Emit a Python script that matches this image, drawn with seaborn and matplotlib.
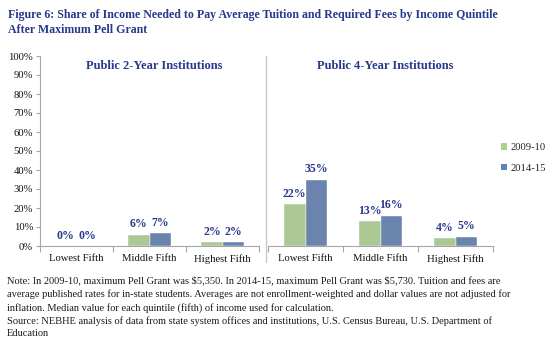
import matplotlib
matplotlib.use("Agg")
import matplotlib.pyplot as plt
import seaborn as sns
import pandas as pd
from matplotlib.lines import Line2D
from matplotlib.patches import Patch
from matplotlib.ticker import FuncFormatter

quintiles = ["Lowest Fifth", "Middle Fifth", "Highest Fifth"]
years = ["2009-10", "2014-15"]
two_year_0910 = [0, 6, 2]
two_year_1415 = [0, 7, 2]
four_year_0910 = [22, 13, 4]
four_year_1415 = [35, 16, 5]
yticks = list(range(0, 101, 10))

title = ("Figure 6: Share of Income Needed to Pay Average Tuition and Required Fees by Income Quintile\n"
         "After Maximum Pell Grant")
panel_titles = ["Public 2-Year Institutions", "Public 4-Year Institutions"]
note = ("Note: In 2009-10, maximum Pell Grant was \\$5,350. In 2014-15, maximum Pell Grant was \\$5,730. Tuition and fees are\n"
        "average published rates for in-state students. Averages are not enrollment-weighted and dollar values are not adjusted for\n"
        "inflation. Median value for each quintile (fifth) of income used for calculation.\n"
        "Source: NEBHE analysis of data from state system offices and institutions, U.S. Census Bureau, U.S. Department of\n"
        "Education")

def make_df(a, b):
    rows = []
    for q, v in zip(quintiles, a):
        rows.append({"quintile": q, "year": years[0], "share": v})
    for q, v in zip(quintiles, b):
        rows.append({"quintile": q, "year": years[1], "share": v})
    return pd.DataFrame(rows)

df2 = make_df(two_year_0910, two_year_1415)
df4 = make_df(four_year_0910, four_year_1415)

sns.set_theme(style="white")
plt.rcParams["font.family"] = ["Liberation Serif", "DejaVu Serif"]

GREEN = "#abd28c"
BLUE = "#5f82b8"
NAVY = "#27398c"
GRID = "#a6a6a6"

W, H = 548, 344
fig = plt.figure(figsize=(W / 100, H / 100), dpi=100)

def px_axes(x0, x1, ytop, ybot):
    return fig.add_axes([x0 / W, 1 - ybot / H, (x1 - x0) / W, (ybot - ytop) / H])

ax1 = px_axes(40, 259, 56, 246)
ax2 = px_axes(268, 493, 56, 246)

for ax, df, ttl in [(ax1, df2, panel_titles[0]), (ax2, df4, panel_titles[1])]:
    sns.barplot(data=df, x="quintile", y="share", hue="year", order=quintiles,
                hue_order=years, palette=[GREEN, BLUE], width=0.58, ax=ax,
                legend=False, edgecolor="white", linewidth=0.3)
    ax.set_ylim(0, 100)
    ax.set_xlim(-0.5, 2.5)
    ax.set_xlabel("")
    ax.set_ylabel("")
    for c in ax.containers:
        ax.bar_label(c, labels=[f"{v:.0f}%" for v in c.datavalues], padding=3,
                     fontsize=8.5, fontweight="bold", color=NAVY)
    ax.text(0.52, 0.945, ttl, transform=ax.transAxes, ha="center", va="center",
            fontsize=9, fontweight="bold", color=NAVY)
    for s in ["top", "right"]:
        ax.spines[s].set_visible(False)
    ax.spines["bottom"].set_color(GRID)
    ax.spines["bottom"].set_linewidth(0.8)
    ax.set_xticks([-0.5, 0.5, 1.5, 2.5], minor=True)
    ax.tick_params(axis="x", which="minor", length=4, width=0.8, color=GRID, direction="out", bottom=True)
    ax.tick_params(axis="x", which="major", length=0, labelsize=7.7, pad=6, colors="#111111")
    ax.set_facecolor("none")

ax1.set_yticks(yticks)
ax1.yaxis.set_major_formatter(FuncFormatter(lambda v, p: f"{v:.0f}%"))
ax1.spines["left"].set_color(GRID)
ax1.spines["left"].set_linewidth(0.8)
ax1.tick_params(axis="y", length=3, width=0.8, color=GRID, direction="out", left=True,
                labelsize=7.7, pad=2, labelcolor="#111111")
ax2.spines["left"].set_visible(False)
ax2.set_yticks([])

handles = [Patch(facecolor=GREEN, edgecolor="none", label=years[0]),
           Patch(facecolor=BLUE, edgecolor="none", label=years[1])]
fig.legend(handles=handles, loc="upper left", bbox_to_anchor=(497 / W, 1 - 139 / H),
           frameon=False, fontsize=7.7, handlelength=0.55, handleheight=0.55,
           handletextpad=0.3, labelspacing=1.05, borderaxespad=0)

fig.add_artist(Line2D([266 / W, 266 / W], [1 - 56 / H, 1 - 262 / H], color="#c8c8c8", linewidth=1))

fig.text(8 / W, 1 - 9 / H, title, ha="left", va="top", fontsize=8.6, fontweight="bold",
         color=NAVY, linespacing=1.34)
fig.text(7 / W, 1 - 276 / H, note, ha="left", va="top", fontsize=7.45, color="#1a1a1a",
         linespacing=1.47)

fig.savefig("out.png", dpi=100, facecolor="white")
